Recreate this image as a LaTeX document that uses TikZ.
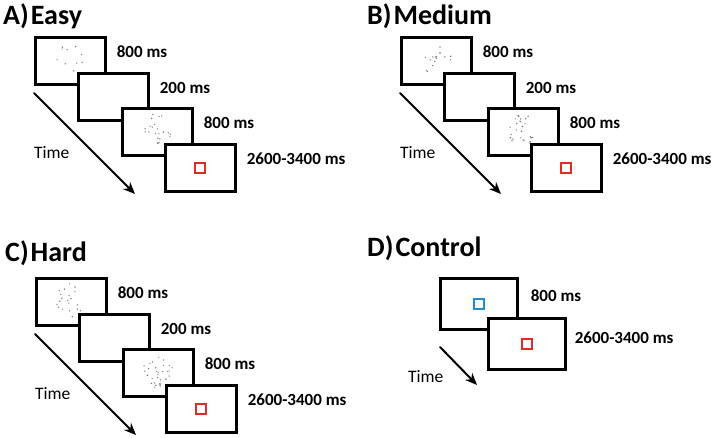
\documentclass[tikz,border=0pt]{standalone}
\usepackage{fontspec}
\setmainfont{Carlito}
\usetikzlibrary{arrows.meta,calc}
\definecolor{cuered}{RGB}{222,45,38}
\definecolor{cueblue}{RGB}{35,140,205}

% scattered grey dots inside the free part of a screen
\newcommand{\dotcloud}[2]{%
  \foreach \k in {1,...,#2}{
    \pgfmathsetmacro\rr{sqrt(rnd)}
    \pgfmathsetmacro\aa{360*rnd}
    \pgfmathsetmacro\dx{36+15*\rr*cos(\aa)}
    \pgfmathsetmacro\dy{23+17*\rr*sin(\aa)}
    \pgfmathtruncatemacro\gr{35+25*rnd}
    \fill[black!\gr] ($(#1.north west)+(\dx,\dy)$) circle (0.8pt);
  }}

\begin{document}
\begin{tikzpicture}[x=1pt,y=-1pt,cap=round]
\tikzstyle{screen}=[draw=black,fill=white,line width=2.6pt,minimum width=70pt,minimum height=47pt,inner sep=0pt,anchor=north west]
\tikzstyle{bigscreen}=[screen,minimum width=77pt,minimum height=51pt]
\tikzstyle{dur}=[font=\bfseries\fontsize{17}{20}\selectfont,anchor=west,inner sep=0pt]
\tikzstyle{title}=[font=\bfseries\fontsize{28}{32}\selectfont,anchor=base west,inner sep=0pt]
\tikzstyle{timelbl}=[font=\fontsize{17.5}{20}\selectfont,anchor=west,inner sep=0pt]
\tikzstyle{timearrow}=[line width=2pt,-{Stealth[length=12pt,width=10pt]}]
\tikzstyle{cue}=[draw,line width=1.7pt,minimum size=10pt,inner sep=0pt]
\pgfmathsetseed{11}
\useasboundingbox (0,0) rectangle (712,438);

% A) Easy
\node[title] (ta) at (3,25) {A)\kern2pt Easy};
\begin{scope}[shift={(34,36)}]
\node[screen] (a1) at (0,0) {};
\dotcloud{a1}{10}
\node[screen] (a2) at (43,36) {};
\node[screen] (a3) at (87,71) {};
\dotcloud{a3}{22}
\node[screen] (a4) at (130,107) {};
\node[cue,draw=cuered] (ca) at (a4) {};
\foreach \s/\t in {a1/800 ms,a2/200 ms,a3/800 ms,a4/2600-3400 ms}
  \node[dur] (\s t) at ([xshift=10pt,yshift=-16pt]\s.north east) {\t};
\node[timelbl] (timea) at (0,117) {Time};
\coordinate (a0) at (0,57);
\coordinate (ae) at (101,158);
\draw[timearrow] (a0) -- (ae);
\end{scope}

% B) Medium
\node[title] (tb) at (367,25) {B)\kern2pt Medium};
\begin{scope}[shift={(400,36)}]
\node[screen] (b1) at (0,0) {};
\dotcloud{b1}{15}
\node[screen] (b2) at (43,36) {};
\node[screen] (b3) at (87,71) {};
\dotcloud{b3}{26}
\node[screen] (b4) at (130,107) {};
\node[cue,draw=cuered] (cb) at (b4) {};
\foreach \s/\t in {b1/800 ms,b2/200 ms,b3/800 ms,b4/2600-3400 ms}
  \node[dur] (\s t) at ([xshift=10pt,yshift=-16pt]\s.north east) {\t};
\node[timelbl] (timeb) at (0,117) {Time};
\coordinate (b0) at (0,57);
\coordinate (be) at (101,158);
\draw[timearrow] (b0) -- (be);
\end{scope}

% C) Hard
\node[title] (tc) at (5,262) {C)\kern2pt Hard};
\begin{scope}[shift={(35,277)}]
\node[screen] (c1) at (0,0) {};
\dotcloud{c1}{20}
\node[screen] (c2) at (43,36) {};
\node[screen] (c3) at (87,71) {};
\dotcloud{c3}{30}
\node[screen] (c4) at (130,107) {};
\node[cue,draw=cuered] (cc) at (c4) {};
\foreach \s/\t in {c1/800 ms,c2/200 ms,c3/800 ms,c4/2600-3400 ms}
  \node[dur] (\s t) at ([xshift=10pt,yshift=-16pt]\s.north east) {\t};
\node[timelbl] (timec) at (0,117) {Time};
\coordinate (c0) at (0,57);
\coordinate (ce) at (101,158);
\draw[timearrow] (c0) -- (ce);
\end{scope}

% D) Control
\node[title] (td) at (367,257) {D)\kern2pt Control};
\node[bigscreen] (d1) at (439,277) {};
\node[cue,draw=cueblue] (cd1) at (d1) {};
\node[bigscreen] (d2) at (487,317) {};
\node[cue,draw=cuered] (cd2) at (d2) {};
\node[dur] (d1t) at ([xshift=12pt,yshift=-19pt]d1.north east) {800 ms};
\node[dur] (d2t) at ([xshift=8pt,yshift=-21pt]d2.north east) {2600-3400 ms};
\node[timelbl] (timed) at (408,377) {Time};
\coordinate (d0) at (440,347);
\coordinate (de) at (477,385);
\draw[timearrow] (d0) -- (de);
\end{tikzpicture}
\end{document}
